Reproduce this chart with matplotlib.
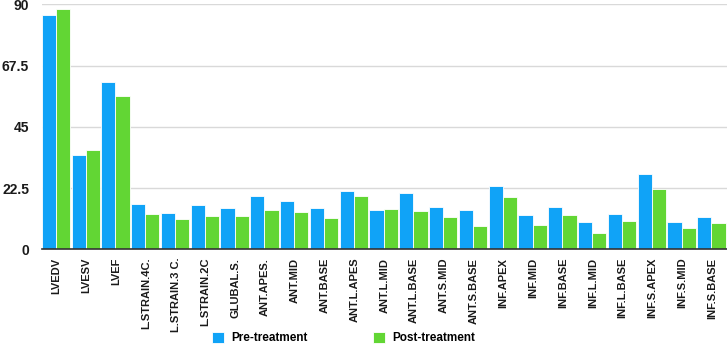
import matplotlib.pyplot as plt
import numpy as np

plt.rcParams['font.family'] = ['Liberation Sans', 'DejaVu Sans']

categories = ['LVEDV', 'LVESV', 'LVEF', 'L.STRAIN.4C.', 'L.STRAIN.3 C.', 'L.STRAIN.2C',
              'GLUBAL.S.', 'ANT.APES.', 'ANT.MID', 'ANT.BASE', 'ANT.L.APES', 'ANT.L.MID',
              'ANT.L.BASE', 'ANT.S.MID', 'ANT.S.BASE', 'INF.APEX', 'INF.MID', 'INF.BASE',
              'INF.L.MID', 'INF.L.BASE', 'INF.S.APEX', 'INF.S.MID', 'INF.S.BASE']
pre_treatment = [86.0, 34.5, 61.3, 16.5, 13.3, 16.1, 15.0, 19.6, 17.7, 15.3, 21.6, 14.3,
                 20.7, 15.6, 14.5, 23.3, 12.6, 15.6, 9.9, 13.0, 27.7, 9.9, 11.7]
post_treatment = [88.4, 36.6, 56.5, 12.8, 11.0, 12.1, 12.2, 14.3, 13.8, 11.6, 19.6, 14.7,
                  13.9, 11.7, 8.4, 19.3, 8.8, 12.7, 5.9, 10.5, 22.2, 7.7, 9.8]
y_ticks = [0, 22.5, 45, 67.5, 90]
y_tick_labels = ['0', '22.5', '45', '67.5', '90']

BLUE = '#10a3f7'
GREEN = '#62d634'

fig = plt.figure(figsize=(7.27, 3.45), dpi=100)
ax = fig.add_axes([0.0574, 0.2774, 0.9426, 0.7101])

x = np.arange(len(categories))
w = 0.475
ax.bar(x - 0.5 + w / 2, pre_treatment, w, color=BLUE, edgecolor='white', linewidth=0.6,
       label='Pre-treatment', zorder=3)
ax.bar(x - 0.5 + w * 1.5, post_treatment, w, color=GREEN, edgecolor='white', linewidth=0.6,
       label='Post-treatment', zorder=3)

ax.set_xlim(-0.5, len(categories) - 0.5)
ax.set_ylim(0, 90)
ax.set_yticks(y_ticks)
ax.set_yticklabels(y_tick_labels, fontsize=10, fontweight='bold', color='#1a1a1a')
ax.set_xticks(x)
ax.set_xticklabels(categories, rotation=90, fontsize=8, fontweight='bold', color='#1a1a1a')
ax.tick_params(axis='both', length=0)
ax.tick_params(axis='y', pad=9)
ax.tick_params(axis='x', pad=6)

for t in y_ticks[1:]:
    ax.axhline(t, color='#d9d9d9', linewidth=1, zorder=1)
for s in ['top', 'right', 'left']:
    ax.spines[s].set_visible(False)
ax.spines['bottom'].set_color('#333333')
ax.spines['bottom'].set_linewidth(1.2)
ax.spines['bottom'].set_zorder(4)

fig.legend(loc='center', bbox_to_anchor=(0.4725, 0.02), ncol=2, frameon=False,
           prop={'size': 8.5, 'weight': 'bold'}, handlelength=1.0, handleheight=1.0,
           columnspacing=5.6, handletextpad=0.6, borderpad=0, borderaxespad=0)

plt.savefig('out.png', dpi=100)
plt.close()
